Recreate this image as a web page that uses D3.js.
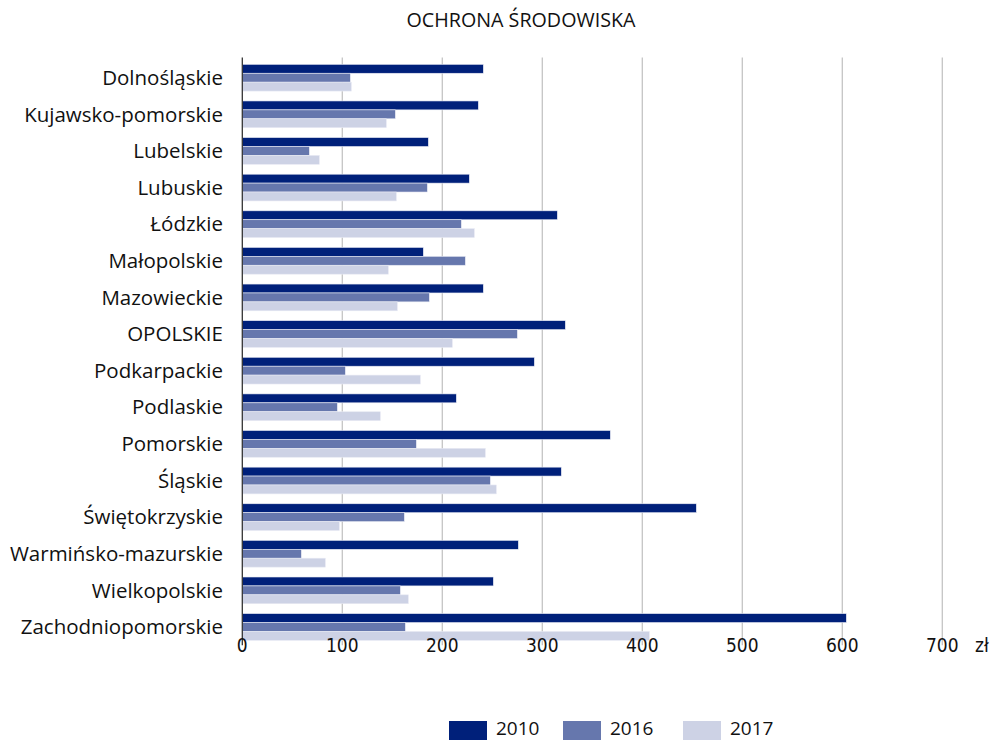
<!DOCTYPE html>
<html>
<head>
<meta charset="utf-8">
<script src="https://cdn.jsdelivr.net/npm/d3@7"></script>
<style>
  body { margin: 0; background: #fff; }
  svg { display: block; }
</style>
</head>
<body>
<script>
// regions (voivodeships)
const regions = [
  "Dolnośląskie", "Kujawsko-pomorskie", "Lubelskie", "Lubuskie", "Łódzkie",
  "Małopolskie", "Mazowieckie", "OPOLSKIE", "Podkarpackie", "Podlaskie",
  "Pomorskie", "Śląskie", "Świętokrzyskie", "Warmińsko-mazurskie",
  "Wielkopolskie", "Zachodniopomorskie"
];
const years = ["2010", "2016", "2017"];
const values2010 = [241, 236, 186, 227, 315, 181, 241, 323, 292, 214, 368, 319, 454, 276, 251, 604];
const values2016 = [108, 153, 67, 185, 219, 223, 187, 275, 103, 95, 174, 248, 162, 59, 158, 163];
const values2017 = [109, 144, 77, 154, 232, 146, 155, 210, 178, 138, 243, 254, 97, 83, 166, 407];
const xTicks = [0, 100, 200, 300, 400, 500, 600, 700];
const colors = ["#00207a", "#6677ad", "#cdd2e5"];

const width = 997, height = 740;
const x0 = 242.3, plotTop = 59.4, plotBottom = 645.3;
const condensed = "'DejaVu Sans Condensed', 'Liberation Sans Narrow', sans-serif";

const svg = d3.select("body").append("svg")
  .attr("width", width)
  .attr("height", height);

const x = d3.scaleLinear().domain([0, 700]).range([x0, x0 + 700]);
const y = d3.scaleBand().domain(regions).range([plotTop, plotBottom]).paddingInner(0.27).paddingOuter(0.135);
const ySub = d3.scaleBand().domain(years).range([0, y.bandwidth()]);
const color = d3.scaleOrdinal().domain(years).range(colors);

// title
svg.append("text")
  .attr("x", 521)
  .attr("y", 27)
  .attr("text-anchor", "middle")
  .attr("font-family", "'Open Sans', sans-serif")
  .attr("font-size", "19.7px")
  .attr("fill", "#111")
  .text("OCHRONA ŚRODOWISKA");

// gridlines
svg.append("g")
  .selectAll("line")
  .data(xTicks.slice(1))
  .join("line")
  .attr("x1", (d) => x(d))
  .attr("x2", (d) => x(d))
  .attr("y1", plotTop - 2)
  .attr("y2", plotBottom)
  .attr("stroke", "#c4c4c4")
  .attr("stroke-width", 1.3);

// bars
const series = [values2010, values2016, values2017];
const rows = regions.map((r, i) => ({
  region: r,
  vals: years.map((yr, j) => ({ year: yr, value: series[j][i] }))
}));

const groups = svg.append("g")
  .selectAll("g")
  .data(rows)
  .join("g")
  .attr("transform", (d) => `translate(0,${y(d.region)})`);

groups.selectAll("rect")
  .data((d) => d.vals)
  .join("rect")
  .attr("x", x(0))
  .attr("y", (d) => ySub(d.year))
  .attr("width", (d) => x(d.value) - x(0))
  .attr("height", ySub.bandwidth())
  .attr("fill", (d) => color(d.year))
  .attr("stroke", "#e8eaf3")
  .attr("stroke-width", 0.6);

// axis line
svg.append("line")
  .attr("x1", x0).attr("x2", x0)
  .attr("y1", plotTop - 2).attr("y2", plotBottom)
  .attr("stroke", "#333")
  .attr("stroke-width", 1.3);

// category labels
svg.append("g")
  .selectAll("text")
  .data(regions)
  .join("text")
  .attr("x", 223)
  .attr("y", (d) => y(d) + y.bandwidth() / 2)
  .attr("dy", "0.35em")
  .attr("text-anchor", "end")
  .attr("font-family", "'Open Sans', sans-serif")
  .attr("font-size", "20.5px")
  .attr("fill", "#111")
  .text((d) => d);

// tick labels
svg.append("g")
  .selectAll("text")
  .data(xTicks)
  .join("text")
  .attr("x", (d) => x(d))
  .attr("y", 652)
  .attr("text-anchor", "middle")
  .attr("font-family", condensed)
  .attr("font-size", "19px")
  .attr("fill", "#111")
  .text((d) => d);

svg.append("text")
  .attr("x", 975)
  .attr("y", 652)
  .attr("font-family", condensed)
  .attr("font-size", "19px")
  .attr("fill", "#111")
  .text("zł");

// legend
const legendX = [449, 563, 683];
const legend = svg.append("g")
  .selectAll("g")
  .data(years)
  .join("g")
  .attr("transform", (d, i) => `translate(${legendX[i]},721)`);

legend.append("rect")
  .attr("width", 38)
  .attr("height", 19)
  .attr("fill", (d) => color(d));

legend.append("text")
  .attr("x", 47)
  .attr("y", 14)
  .attr("font-family", "'Open Sans', sans-serif")
  .attr("font-size", "19px")
  .attr("fill", "#111")
  .text((d) => d);
</script>
</body>
</html>
